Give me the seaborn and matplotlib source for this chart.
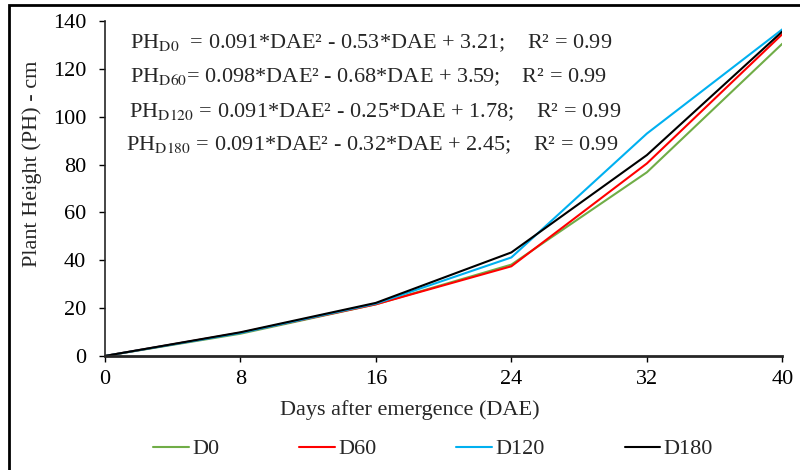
import matplotlib
matplotlib.use("Agg")
import matplotlib.pyplot as plt
import seaborn as sns
import pandas as pd
from matplotlib.patches import Rectangle

dae = [0, 8, 16, 24, 32, 40]
d0 = [0, 9.3, 21.6, 38.2, 76.8, 130.6]
d60 = [0, 9.7, 21.6, 37.5, 80.5, 134.6]
d120 = [0, 9.6, 21.9, 41.2, 93.0, 136.6]
d180 = [0, 9.9, 22.2, 43.3, 84.0, 135.7]
series_names = ["D0", "D60", "D120", "D180"]
colors = ["#70AD47", "#FF0000", "#00B0F0", "#000000"]
equations = [
    r"PH$_{\mathrm{D0}}$  = 0.091*DAE² - 0.53*DAE + 3.21;    R² = 0.99",
    r"PH$_{\mathrm{D60}}$= 0.098*DAE² - 0.68*DAE + 3.59;    R² = 0.99",
    r"PH$_{\mathrm{D120}}$ = 0.091*DAE² - 0.25*DAE + 1.78;    R² = 0.99",
    r"PH$_{\mathrm{D180}}$ = 0.091*DAE² - 0.32*DAE + 2.45;    R² = 0.99",
]

rows = []
for name, vals in zip(series_names, [d0, d60, d120, d180]):
    for x, y in zip(dae, vals):
        rows.append({"DAE": x, "PH": y, "Treatment": name})
df = pd.DataFrame(rows)

sns.set_style("ticks")
plt.rcParams["font.family"] = ["Liberation Serif", "DejaVu Serif"]
plt.rcParams["mathtext.fontset"] = "stix"

FS = 16
fig = plt.figure(figsize=(8, 4.7), dpi=100)
ax = fig.add_axes([0.131, 0.2426, 0.847, 0.7124])

sns.lineplot(data=df, x="DAE", y="PH", hue="Treatment", hue_order=series_names,
             palette=colors, linewidth=1.5, ax=ax, legend=True)

ax.set_xlim(0, 40)
ax.set_ylim(0, 140)
ax.set_xticks(dae)
ax.set_yticks(range(0, 141, 20))
ax.tick_params(axis="both", labelsize=FS, colors="black", direction="out",
               length=4.3, width=1)
ax.tick_params(axis="x", pad=5.5)
ax.tick_params(axis="y", pad=9)
for s in ["top", "right"]:
    ax.spines[s].set_visible(False)
ax.spines["left"].set_linewidth(1.2)
ax.spines["bottom"].set_linewidth(2)
ax.set_xlabel("Days after emergence (DAE)", fontsize=FS)
ax.set_ylabel("Plant Height (PH) - cm", fontsize=FS)
ax.xaxis.label.set_va("center")
ax.xaxis.set_label_coords(0.4505, -0.161)
ax.yaxis.label.set_va("center")
ax.yaxis.set_label_coords(-0.107, 0.573)

ys = [0.919, 0.818, 0.713, 0.615]
xs = [0.0369, 0.0369, 0.035, 0.032]
for eq, x, y in zip(equations, xs, ys):
    ax.text(x, y, eq, transform=ax.transAxes, fontsize=FS, va="baseline", ha="left")

handles, labels = ax.get_legend_handles_labels()
ax.legend(handles, labels, loc="center", bbox_to_anchor=(0.4845, -0.278), ncol=4,
          frameon=False, fontsize=FS, handlelength=1.6, columnspacing=3.6,
          handletextpad=0.15, borderpad=0, borderaxespad=0)

fig.patches.append(Rectangle((0.011, -0.2), 1.5, 1.189, transform=fig.transFigure,
                             fill=False, edgecolor="black", linewidth=2))

fig.savefig("out.png", dpi=100)
